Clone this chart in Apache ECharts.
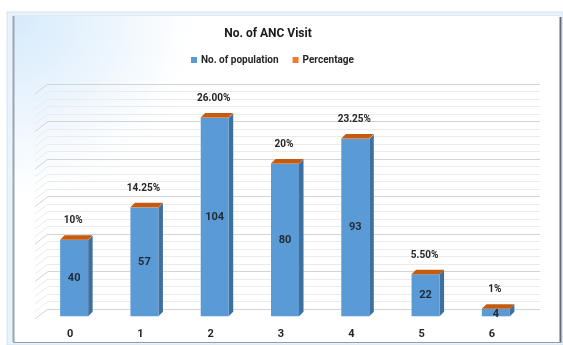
<!DOCTYPE html>
<html>
<head>
<meta charset="utf-8">
<script src="https://cdn.jsdelivr.net/npm/echarts@6/dist/echarts.min.js"></script>
<style>
  html, body { margin: 0; padding: 0; background: #ffffff; }
  #chart { width: 563px; height: 345px; }
</style>
</head>
<body>
<div id="chart"></div>
<script>
// Number of ANC visits per woman
const categories = ['0', '1', '2', '3', '4', '5', '6'];
const population = [40, 57, 104, 80, 93, 22, 4];
const percentage = [10, 14.25, 26, 20, 23.25, 5.5, 1];
const percentLabels = ['10%', '14.25%', '26.00%', '20%', '23.25%', '5.50%', '1%'];
const wallTicks = [];
for (let t = 0; t <= 120; t += 4) wallTicks.push(t);

const FONT = 'Roboto, "Open Sans", sans-serif';
const BLUE = '#5b9bd5', BLUE_SIDE = '#3f6f9c';
const ORANGE = '#ed7d31', ORANGE_TOP = '#c55a11';
const DEPTH = 4.5, HALF = 14, SHIFT = 4;

const chart = echarts.init(document.getElementById('chart'), null, { renderer: 'canvas' });

// stacked data: population, then percentage as a fraction on top
const popData = population.map((v, i) => [i, v]);
const pctData = population.map((v, i) => [i, v, v + percentage[i] / 100]);

function renderPopulation(params, api) {
  const i = api.value(0), v = api.value(1);
  const top = api.coord([i, v]);
  const base = api.coord([i, 0]);
  const cx = top[0] + SHIFT;
  const l = cx - HALF, r = cx + HALF;
  return {
    type: 'group',
    children: [
      { type: 'polygon', shape: { points: [[r, top[1]], [r + DEPTH, top[1] - DEPTH], [r + DEPTH, base[1] - DEPTH], [r, base[1]]] },
        style: { fill: BLUE_SIDE } },
      { type: 'rect', shape: { x: l, y: top[1], width: r - l, height: base[1] - top[1] },
        style: { fill: BLUE } },
      { type: 'text', x: cx, y: (top[1] + base[1]) / 2 + (v < 10 ? 2 : 0),
        style: { text: String(v), fill: '#1f2a36', font: 'bold 11px ' + FONT, align: 'center', verticalAlign: 'middle' } }
    ]
  };
}

function renderPercentage(params, api) {
  const i = api.value(0), start = api.value(1), end = api.value(2);
  const top = api.coord([i, end]);
  const base = api.coord([i, start]);
  const cx = top[0] + SHIFT;
  const l = cx - HALF, r = cx + HALF;
  const y = top[1];
  return {
    type: 'group',
    children: [
      { type: 'rect', shape: { x: l, y: y, width: r - l, height: Math.max(base[1] - y, 0) },
        style: { fill: ORANGE } },
      { type: 'polygon', shape: { points: [[l, y], [r, y], [r + DEPTH, y - DEPTH], [l + DEPTH, y - DEPTH]] },
        style: { fill: ORANGE_TOP } },
      { type: 'text', x: cx - 1, y: y - 19,
        style: { text: percentLabels[i], fill: '#262626', font: 'bold 10px ' + FONT, align: 'center', verticalAlign: 'middle' } }
    ]
  };
}

// slanted side-wall lines joining the back wall gridlines
function renderSideWall(params, api) {
  const v = api.value(0);
  const p = api.coord([0, v]);
  const major = v % 20 === 0;
  return {
    type: 'line',
    shape: { x1: p[0], y1: p[1], x2: p[0] - 13, y2: p[1] + 10 },
    style: { stroke: major ? '#d4d4d4' : '#ebebeb', lineWidth: 1 }
  };
}

const option = {
  animation: false,
  backgroundColor: 'transparent',
  graphic: [
    { type: 'rect', z: -10, shape: { x: 7, y: 12, width: 556, height: 333 },
      style: { fill: '#eaf3fb', stroke: '#cfe2f3', lineWidth: 1 } },
    { type: 'rect', z: -9, shape: { x: 13, y: 15, width: 547, height: 327 },
      style: {
        fill: new echarts.graphic.RadialGradient(0, 0, 0.55, [
          { offset: 0, color: '#d6eafb' },
          { offset: 1, color: '#ffffff' }
        ])
      } },
    { type: 'line', z: -8, shape: { x1: 13.5, y1: 16, x2: 13.5, y2: 342 }, style: { stroke: '#9aa6b2', lineWidth: 2 } },
    { type: 'line', z: -8, shape: { x1: 13, y1: 15.5, x2: 560, y2: 15.5 }, style: { stroke: '#e3e9ef', lineWidth: 1 } },
    { type: 'line', z: -8, shape: { x1: 560.5, y1: 17, x2: 560.5, y2: 343 }, style: { stroke: '#6b6b6b', lineWidth: 2 } },
    { type: 'line', z: -8, shape: { x1: 13, y1: 342.5, x2: 561, y2: 342.5 }, style: { stroke: '#9a9a9a', lineWidth: 1 } }
  ],
  title: {
    text: 'No. of ANC Visit',
    left: 263,
    textAlign: 'center',
    top: 23,
    textStyle: { fontFamily: FONT, fontSize: 12, fontWeight: 'bold', color: '#1a1a1a' }
  },
  legend: {
    top: 50,
    left: 186,
    itemWidth: 6,
    itemHeight: 6,
    itemGap: 14,
    icon: 'rect',
    data: ['No. of population', 'Percentage'],
    textStyle: { fontFamily: FONT, fontSize: 10, fontWeight: 'bold', color: '#262626', padding: [0, 0, 0, -1] }
  },
  grid: [
    // back wall
    { left: 48, right: 23, top: 84, bottom: 36 },
    // front plane for bars
    { left: 35, right: 36, top: 87.5, bottom: 28.7 }
  ],
  xAxis: [
    { gridIndex: 0, type: 'value', min: 0, max: 1, show: false },
    { gridIndex: 1, type: 'category', data: categories, boundaryGap: true,
      axisLine: { show: false }, axisTick: { show: false }, splitLine: { show: false },
      axisLabel: { margin: 12, fontFamily: FONT, fontSize: 11, fontWeight: 'bold', color: '#262626' } }
  ],
  yAxis: [
    { gridIndex: 0, type: 'value', min: 0, max: 120, interval: 20,
      axisLine: { show: false }, axisTick: { show: false }, axisLabel: { show: false },
      splitLine: { show: true, lineStyle: { color: '#d4d4d4', width: 1 } },
      minorTick: { show: false, splitNumber: 5 },
      minorSplitLine: { show: true, lineStyle: { color: '#ebebeb', width: 1 } } },
    { gridIndex: 1, type: 'value', min: 0, max: 120, show: false, splitLine: { show: false } }
  ],
  series: [
    { type: 'custom', name: 'wall', xAxisIndex: 0, yAxisIndex: 0, data: wallTicks.map(t => [t]),
      encode: { y: 0 }, renderItem: renderSideWall, silent: true, z: 1 },
    { type: 'custom', name: 'No. of population', xAxisIndex: 1, yAxisIndex: 1,
      data: popData, encode: { x: 0, y: 1 }, renderItem: renderPopulation,
      itemStyle: { color: BLUE }, z: 3 },
    { type: 'custom', name: 'Percentage', xAxisIndex: 1, yAxisIndex: 1,
      data: pctData, encode: { x: 0, y: [1, 2] }, renderItem: renderPercentage,
      itemStyle: { color: ORANGE }, z: 4 }
  ]
};

chart.setOption(option);
</script>
</body>
</html>
